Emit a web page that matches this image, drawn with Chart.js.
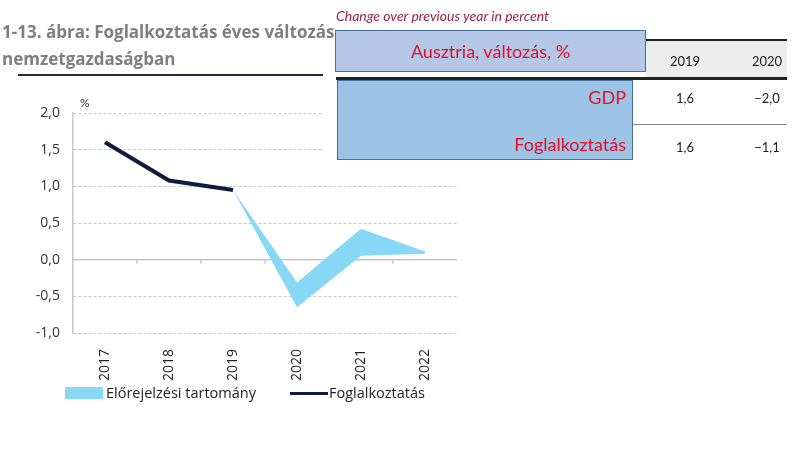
<!DOCTYPE html>
<html>
<head>
<meta charset="utf-8">
<script src="https://cdn.jsdelivr.net/npm/chart.js@4"></script>
<style>
  body { margin: 0; background: #fff; font-family: Lato, "Open Sans", sans-serif; }
  #wrap { position: relative; width: 800px; height: 450px; overflow: hidden; }
  canvas { position: absolute; left: 0; top: 0; }
  .abs { position: absolute; white-space: nowrap; }
  .title { left: 2px; font-family: "Open Sans", sans-serif; font-weight: bold; font-size: 17px; color: #7f7f7f; }
  .box { position: absolute; border: 1px solid #41719c; box-sizing: border-box; }
  .red { color: #e0102a; font-size: 18px; }
  .num { font-size: 13px; color: #222; }
  .leg { font-family: "Open Sans", sans-serif; font-size: 14.5px; color: #222; }
</style>
</head>
<body>
<div id="wrap">
  <canvas id="chart" width="800" height="450"></canvas>

  <div class="abs" style="left:323px;top:80px;width:477px;height:85px;background:#fff"></div>

  <div class="abs title" style="top:20px">1-13. ábra: Foglalkoztatás éves változás</div>
  <div class="abs title" style="top:47px">nemzetgazdaságban</div>
  <div class="abs" style="left:18px;top:74px;width:305px;height:2px;background:#1f2a3a"></div>

  <div class="abs" style="left:336px;top:7px;font-style:italic;font-size:14px;color:#9b2242">Change over previous year in percent</div>

  <div class="abs" style="left:645px;top:39px;width:142px;height:2px;background:#222"></div>
  <div class="abs" style="left:645px;top:41px;width:142px;height:36px;background:#ededed"></div>
  <div class="abs" style="left:336px;top:77px;width:451px;height:3px;background:#222"></div>
  <div class="abs" style="left:633px;top:124px;width:154px;height:1px;background:#888"></div>
  <div id="table"></div>

  <div class="box" style="left:335px;top:30px;width:311px;height:42px;background:#b4c7e7"></div>
  <div class="abs red" style="left:335px;top:40px;width:311px;text-align:center">Ausztria, változás, %</div>
  <div class="box" style="left:337px;top:80px;width:296px;height:80px;background:#9dc3e6"></div>
  <div class="abs red" style="left:337px;top:86px;width:289px;text-align:right">GDP</div>
  <div class="abs red" style="left:337px;top:133px;width:289px;text-align:right">Foglalkoztatás</div>

  <div class="abs" style="left:80px;top:95px;font-size:12px;color:#333">%</div>

  <div class="abs" style="left:65px;top:387px;width:38px;height:12px;background:#87d7f7"></div>
  <div class="abs leg" style="left:106px;top:383px">Előrejelzési tartomány</div>
  <div class="abs" style="left:290px;top:392px;width:38px;height:3px;background:#0e1c3d"></div>
  <div class="abs leg" style="left:329px;top:383px">Foglalkoztatás</div>
</div>

<script>
// adatok
const years = ["2017", "2018", "2019", "2020", "2021", "2022"];
const employment = [1.6, 1.08, 0.95, null, null, null];
const bandLow = [null, null, 0.95, -0.65, 0.055, 0.08];
const bandHigh = [null, null, 0.95, -0.31, 0.42, 0.11];

const tableYears = ["2019", "2020"];
const gdpRow = ["1,6", "\u22122,0"];
const empRow = ["1,6", "\u22121,1"];

// tablazat szamai
const table = document.getElementById("table");
const colX = [685, 767];
[[tableYears, 53], [gdpRow, 90], [empRow, 139]].forEach(([vals, top]) => {
    vals.forEach((v, i) => {
        const d = document.createElement("div");
        d.className = "abs num";
        d.style.left = (colX[i] - 30) + "px";
        d.style.width = "60px";
        d.style.textAlign = "center";
        d.style.top = top + "px";
        d.textContent = v;
        table.appendChild(d);
    });
});

const zeroLine = {
    id: "zeroLine",
    beforeDatasetsDraw(chart) {
        const c = chart.ctx;
        const area = chart.chartArea;
        const y = chart.scales.y.getPixelForValue(0);
        const x = chart.scales.x;
        c.save();
        c.strokeStyle = "#c8c8c8";
        c.lineWidth = 1.5;
        c.beginPath();
        c.moveTo(area.left, y);
        c.lineTo(area.right, y);
        for (let i = 0; i < years.length - 1; i++) {
            const bx = (x.getPixelForValue(i) + x.getPixelForValue(i + 1)) / 2;
            c.moveTo(bx, y);
            c.lineTo(bx, y + 4);
        }
        c.stroke();
        c.restore();
    }
};

new Chart(document.getElementById("chart"), {
    type: "line",
    data: {
        labels: years,
        datasets: [
            {
                label: "also",
                data: bandLow,
                borderWidth: 0,
                pointRadius: 0,
                fill: false,
                order: 3
            },
            {
                label: "Előrejelzési tartomány",
                data: bandHigh,
                borderWidth: 0,
                pointRadius: 0,
                backgroundColor: "#87d7f7",
                fill: "-1",
                order: 2
            },
            {
                label: "Foglalkoztatás",
                data: employment,
                borderColor: "#0e1c3d",
                borderWidth: 4,
                pointRadius: 0,
                tension: 0,
                fill: false,
                order: 1
            }
        ]
    },
    options: {
        responsive: false,
        animation: false,
        layout: { padding: { top: 113, right: 343, left: 0, bottom: 0 } },
        plugins: { legend: { display: false }, tooltip: { enabled: false } },
        scales: {
            x: {
                offset: true,
                grid: { display: false },
                border: { display: false },
                ticks: {
                    autoSkip: false,
                    minRotation: 90,
                    maxRotation: 90,
                    padding: 8,
                    color: "#222",
                    font: { family: "Open Sans", size: 14 }
                },
                afterFit: s => { s.height = 117; }
            },
            y: {
                min: -1,
                max: 2,
                grid: { color: "#c8c8c8", drawTicks: false },
                border: { display: true, color: "#c8c8c8", width: 1.5, dash: [3, 2] },
                ticks: {
                    stepSize: 0.5,
                    padding: 13,
                    color: "#333",
                    font: { family: "Open Sans", size: 14 },
                    callback: v => v.toFixed(1).replace(".", ",")
                },
                afterFit: s => { s.width = 73; }
            }
        }
    },
    plugins: [zeroLine]
});
</script>
</body>
</html>
